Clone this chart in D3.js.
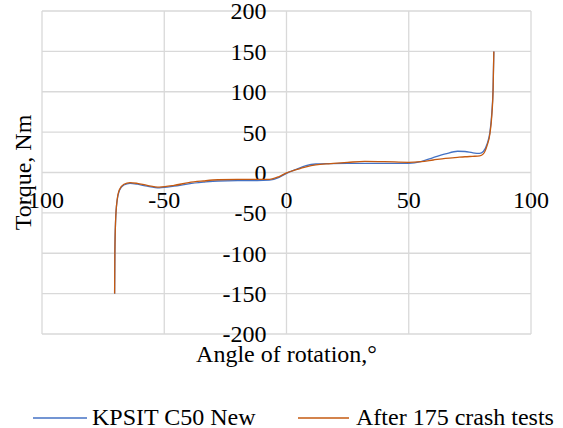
<!DOCTYPE html>
<html><head><meta charset="utf-8">
<script src="https://cdn.jsdelivr.net/npm/d3@7"></script>
<style>body{margin:0;background:#fff}svg{display:block}</style>
</head><body>
<script>
const xTicks = [-100, -50, 0, 50, 100];
const yTicks = [-200, -150, -100, -50, 0, 50, 100, 150, 200];
const seriesNames = ["KPSIT C50 New", "After 175 crash tests"];
const newX = [-70.3, -70.2, -69.9, -69.3, -68.3, -66.5, -64, -61, -57, -52, -46, -40, -34, -28, -20, -12, -7, -3, 0, 4, 8, 12, 18, 25, 32, 40, 50, 55, 60, 65, 70, 73, 76, 79, 80.5, 82, 83.2, 84, 84.5, 84.8];
const newY = [-150, -100, -60, -35, -22, -15.5, -13.5, -14.5, -17, -19, -17, -14, -12, -10.5, -10, -10, -9.5, -6, -1, 4, 8.5, 10.5, 11, 11.3, 11.4, 11.2, 11.4, 13.5, 18.5, 23, 26.3, 26, 24.5, 23.7, 26, 35, 50, 75, 105, 150];
const crashX = [-70.3, -70.2, -69.9, -69.3, -68.3, -66.5, -64, -61, -57, -52, -46, -40, -34, -28, -20, -12, -7, -3, 0, 4, 8, 12, 18, 25, 32, 40, 50, 55, 60, 65, 70, 73, 76, 79, 80.5, 82, 83.2, 84, 84.5, 84.8];
const crashY = [-150, -100, -60, -35, -21, -14.5, -12.5, -13.5, -16, -18, -16, -12.5, -10.5, -9, -8.5, -8.5, -8.5, -5, -0.5, 3.5, 7, 9.5, 11, 12.5, 13.8, 13.5, 12.6, 13.5, 15.5, 17.5, 18.8, 19.5, 20, 20.5, 23, 33, 48, 72, 103, 150];

const W = 563, H = 428;
const FONT = "'Liberation Serif', 'Times New Roman', serif";
const svg = d3.select("body").append("svg").attr("width", W).attr("height", H)
  .attr("font-family", FONT);
const x = d3.scaleLinear().domain([-100, 100]).range([42, 531]);
const y = d3.scaleLinear().domain([-200, 200]).range([334, 11]);

svg.append("g").selectAll("line").data(yTicks).join("line")
  .attr("x1", x(-100)).attr("x2", x(100)).attr("y1", d => y(d)).attr("y2", d => y(d))
  .attr("stroke", "#d9d9d9").attr("stroke-width", 1.3);
svg.append("g").selectAll("line").data(xTicks).join("line")
  .attr("y1", y(-200)).attr("y2", y(200)).attr("x1", d => x(d)).attr("x2", d => x(d))
  .attr("stroke", "#d9d9d9").attr("stroke-width", 1.3);

const fs = 24;
svg.append("g").selectAll("text").data(yTicks).join("text")
  .attr("x", x(0) - 20).attr("y", d => y(d)).attr("dy", "0.35em")
  .attr("text-anchor", "end").attr("font-size", fs).attr("fill", "#000").text(d => d);
svg.append("g").selectAll("text").data(xTicks).join("text")
  .attr("x", d => x(d)).attr("y", y(0) + 35)
  .attr("text-anchor", "middle").attr("font-size", fs).attr("fill", "#000").text(d => d);

const line = d3.line().x(d => x(d[0])).y(d => y(d[1])).curve(d3.curveMonotoneX);
const colors = ["#4472c4", "#c55a11"];
svg.append("path").datum(newX.map((v, i) => [v, newY[i]])).attr("d", line)
  .attr("fill", "none").attr("stroke", colors[0]).attr("stroke-width", 1.3);
svg.append("path").datum(crashX.map((v, i) => [v, crashY[i]])).attr("d", line)
  .attr("fill", "none").attr("stroke", colors[1]).attr("stroke-width", 1.3);

svg.append("text").attr("transform", `translate(31,${y(0)}) rotate(-90)`)
  .attr("text-anchor", "middle").attr("font-size", fs).text("Torque, Nm");
svg.append("text").attr("x", x(0)).attr("y", 362).attr("text-anchor", "middle")
  .attr("font-size", fs).text("Angle of rotation,°");

const leg = [{x1: 33, x2: 87, tx: 92}, {x1: 298, x2: 349, tx: 356}];
leg.forEach((l, i) => {
  svg.append("line").attr("x1", l.x1).attr("x2", l.x2).attr("y1", 418).attr("y2", 418)
    .attr("stroke", colors[i]).attr("stroke-width", 1.3);
  svg.append("text").attr("x", l.tx).attr("y", 425)
    .attr("font-size", fs).text(seriesNames[i]);
});
</script>
</body></html>
